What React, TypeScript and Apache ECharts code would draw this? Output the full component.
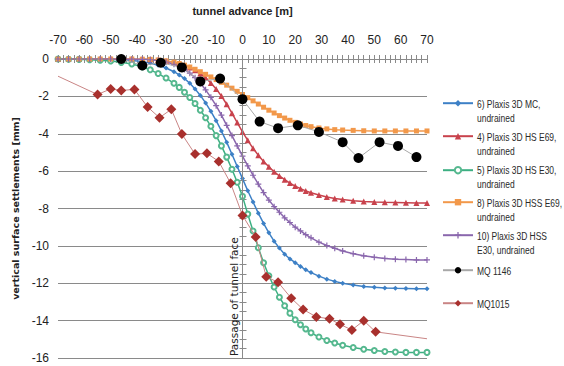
import React, { useEffect, useRef } from "react";
import * as echarts from "echarts";

// tunnel advance [m] of the Plaxis output nodes
const modelX = [-70, -66, -62, -58, -54, -50, -46, -42, -38, -35, -32, -29, -26, -24, -22, -20, -18, -16, -14, -12, -10, -8, -6, -4, -2, 0, 2, 4, 6, 8, 10, 12, 14, 16, 18, 20, 22, 24, 26, 29, 32, 35, 38, 42, 46, 50, 54, 58, 62, 66, 70];

const mc6 = [0, 0, 0, -0.01, -0.01, -0.02, -0.04, -0.08, -0.14, -0.22, -0.33, -0.48, -0.68, -0.85, -1.05, -1.3, -1.6, -1.95, -2.35, -2.8, -3.3, -3.85, -4.45, -5.1, -5.75, -6.4, -7.05, -7.65, -8.25, -8.8, -9.3, -9.75, -10.12, -10.45, -10.7, -10.9, -11.1, -11.28, -11.43, -11.62, -11.78, -11.9, -12.0, -12.1, -12.17, -12.22, -12.25, -12.27, -12.28, -12.29, -12.3];
const hsE69 = [0, 0, 0, 0, 0, 0, 0, -0.01, -0.01, -0.02, -0.05, -0.1, -0.17, -0.24, -0.33, -0.45, -0.6, -0.78, -1.0, -1.28, -1.6, -1.98, -2.42, -2.9, -3.4, -3.9, -4.35, -4.78, -5.15, -5.48, -5.77, -6.03, -6.26, -6.46, -6.64, -6.8, -6.94, -7.06, -7.16, -7.28, -7.38, -7.46, -7.52, -7.58, -7.62, -7.65, -7.67, -7.68, -7.69, -7.7, -7.7];
const hsE30 = [0, -0.01, -0.02, -0.04, -0.07, -0.11, -0.18, -0.27, -0.42, -0.58, -0.78, -1.02, -1.3, -1.52, -1.78, -2.06, -2.38, -2.74, -3.14, -3.6, -4.1, -4.65, -5.25, -5.9, -6.6, -7.35, -8.3, -9.2, -10.1, -10.9, -11.6, -12.2, -12.75, -13.2, -13.6, -13.95, -14.22, -14.45, -14.65, -14.88, -15.06, -15.2, -15.32, -15.44, -15.53, -15.6, -15.65, -15.68, -15.7, -15.7, -15.7];
const hssE69 = [0, 0, 0, 0, 0, 0, 0, 0, -0.01, -0.02, -0.05, -0.1, -0.17, -0.24, -0.33, -0.43, -0.55, -0.68, -0.82, -0.96, -1.1, -1.25, -1.4, -1.56, -1.73, -1.9, -2.07, -2.24, -2.41, -2.58, -2.74, -2.89, -3.03, -3.16, -3.28, -3.39, -3.48, -3.56, -3.62, -3.69, -3.74, -3.78, -3.8, -3.82, -3.84, -3.85, -3.85, -3.85, -3.85, -3.85, -3.85];
const hssE30 = [0, 0, 0, 0, 0, 0, -0.01, -0.01, -0.02, -0.04, -0.08, -0.16, -0.28, -0.4, -0.56, -0.76, -1.0, -1.3, -1.65, -2.05, -2.5, -3.0, -3.55, -4.1, -4.65, -5.2, -5.72, -6.22, -6.7, -7.15, -7.55, -7.9, -8.2, -8.5, -8.75, -9.0, -9.2, -9.4, -9.57, -9.8, -9.98, -10.13, -10.27, -10.42, -10.53, -10.61, -10.67, -10.71, -10.73, -10.75, -10.75];

// measurements
const mq1146X = [-46, -38, -31, -23, -16, -8.5, 0, 6.5, 13.5, 21, 29, 38, 44, 52, 59, 66];
const mq1146Y = [0, -0.35, -0.2, -0.45, -1.2, -1.05, -2.15, -3.35, -3.7, -3.55, -3.9, -4.45, -5.3, -4.45, -4.65, -5.25];
const mq1015X = [-70, -55, -50, -46, -41, -36, -31.5, -27, -23, -18, -13.5, -9, -4.5, 0, 5, 9, 13.5, 18.5, 23, 28, 33, 37, 41.5, 46, 50.5, 70];
const mq1015Y = [-0.92, -1.9, -1.6, -1.68, -1.63, -2.57, -3.14, -2.69, -4.02, -5.09, -5.05, -5.48, -6.65, -8.37, -9.52, -11.65, -11.95, -12.8, -13.4, -13.8, -13.9, -14.2, -14.5, -14.0, -14.6, -14.97];

const seriesNames = [
  "6) Plaxis 3D MC,\nundrained",
  "4) Plaxis 3D HS E69,\nundrained",
  "5) Plaxis 3D HS E30,\nundrained",
  "8) Plaxis 3D HSS E69,\nundrained",
  "10) Plaxis 3D HSS\nE30, undrained",
  "MQ 1146",
  "MQ1015",
];

const xAxisTitle = "tunnel advance [m]";
const yAxisTitle = "vertical surface settlements [mm]";
const faceLabel = "Passage of tunnel face";

const SANS = "'Liberation Sans', Arial, sans-serif";
const GRID_COLOR = "#8a8a8a";
const PLUS = "path://M0,4 L10,4 L10,6 L0,6 Z M4,0 L6,0 L6,10 L4,10 Z";

function pairs(xs: number[], ys: number[]) {
  return xs.map((x, i) => [x, ys[i]]);
}

export default function App() {
  const ref = useRef<HTMLDivElement>(null);
  useEffect(() => {
    const chart = echarts.init(ref.current!, null, { renderer: "svg" });
    const legendCenters = [104, 137, 170, 203, 236, 271, 304];
    const LH = 14.5;
    const legends = seriesNames.map((n, i) => ({
      data: [n],
      left: 442,
      top: legendCenters[i] - 4,
      orient: "vertical",
      padding: 0,
      itemGap: 0,
      itemWidth: 30,
      itemHeight: 8,
      selectedMode: false,
      formatter: () => "",
      textStyle: { fontSize: 1, lineHeight: 1 },
    }));
    const legendTexts = seriesNames.map((n, i) => ({
      type: "text",
      x: 477,
      y: legendCenters[i] - LH / 2,
      scaleX: 0.77,
      silent: true,
      style: {
        text: n,
        x: 0,
        y: 0,
        fontFamily: SANS,
        fontSize: 11,
        lineHeight: LH,
        verticalAlign: "top",
        fill: "#2a2a2a",
      },
    }));

    const lineSeries = (name: string, ys: number[], color: string, symbol: string, size: number, extra: any = {}) => ({
      type: "line",
      name,
      data: pairs(modelX, ys),
      symbol,
      symbolSize: size,
      showSymbol: true,
      lineStyle: { color, width: 1.5 },
      itemStyle: { color },
      ...extra,
    });

    const option: any = {
      animation: false,
      legend: legends,
      graphic: legendTexts,
      grid: { left: 58, right: 137, top: 57.7, bottom: 8 },
      xAxis: [
        {
          type: "value",
          position: "top",
          min: -70,
          max: 70,
          interval: 10,
          name: xAxisTitle,
          nameLocation: "middle",
          nameGap: 43,
          nameTextStyle: { fontFamily: SANS, fontWeight: "bold", fontSize: 11, color: "#222" },
          axisLine: { show: true, lineStyle: { color: GRID_COLOR } },
          axisTick: { show: true, length: 4, lineStyle: { color: GRID_COLOR } },
          minorTick: { show: true, splitNumber: 5, length: 4, lineStyle: { color: GRID_COLOR } },
          axisLabel: { fontFamily: SANS, fontSize: 12, color: "#222", margin: 13 },
          splitLine: { show: false },
        },
        {
          type: "value",
          position: "top",
          min: -70,
          max: 70,
          interval: 10,
          axisLine: { show: false },
          axisTick: { show: true, inside: true, length: 4, lineStyle: { color: GRID_COLOR } },
          minorTick: { show: true, splitNumber: 5, length: 4, lineStyle: { color: GRID_COLOR } },
          axisLabel: { show: false },
          splitLine: { show: false },
        },
      ],
      yAxis: [
        {
          type: "value",
          min: -16,
          max: 0,
          interval: 2,
          name: yAxisTitle,
          nameLocation: "middle",
          nameGap: 34,
          nameRotate: 90,
          nameTextStyle: { fontFamily: "'DejaVu Sans', sans-serif", fontWeight: "bold", fontSize: 9.5, color: "#222" },
          axisLine: { show: true, lineStyle: { color: GRID_COLOR } },
          axisTick: { show: true, length: 3, lineStyle: { color: GRID_COLOR } },
          minorTick: { show: true, splitNumber: 4, length: 3, lineStyle: { color: GRID_COLOR } },
          axisLabel: { fontFamily: SANS, fontSize: 12, color: "#222", margin: 9 },
          splitLine: { show: true, lineStyle: { color: GRID_COLOR, width: 1 } },
        },
        {
          type: "value",
          position: "left",
          min: -16,
          max: 0,
          interval: 2,
          axisLine: { show: false },
          axisTick: { show: true, inside: true, length: 4, lineStyle: { color: GRID_COLOR } },
          minorTick: { show: true, splitNumber: 4, length: 4, lineStyle: { color: GRID_COLOR } },
          axisLabel: { show: false },
          splitLine: { show: false },
        },
      ],
      series: [
        lineSeries(seriesNames[0], mc6, "#3d80c6", "diamond", 5, {
          markLine: {
            silent: true,
            symbol: "none",
            lineStyle: { color: GRID_COLOR, width: 1, type: "solid" },
            label: {
              show: true,
              position: "insideStartTop",
              formatter: faceLabel,
              fontFamily: "'DejaVu Sans', sans-serif",
              fontSize: 10.5,
              color: "#222",
              distance: [2, 3],
            },
            data: [{ xAxis: 0 }],
          },
        }),
        lineSeries(seriesNames[1], hsE69, "#c8424c", "triangle", 6),
        lineSeries(seriesNames[2], hsE30, "#3caf82", "emptyCircle", 5, {
          itemStyle: { color: "#56b88f", borderColor: "#56b88f", borderWidth: 1 },
          lineStyle: { color: "#3caf82", width: 1.5 },
        }),
        lineSeries(seriesNames[3], hssE69, "#f2984a", "rect", 5),
        lineSeries(seriesNames[4], hssE30, "#8a67ad", PLUS, 6),
        {
          type: "line",
          name: seriesNames[5],
          data: pairs(mq1146X, mq1146Y),
          symbol: "circle",
          symbolSize: 10,
          lineStyle: { color: "#a8a8a8", width: 1 },
          itemStyle: { color: "#000" },
          z: 5,
        },
        {
          type: "line",
          name: seriesNames[6],
          data: pairs(mq1015X, mq1015Y).map((p, i, a) =>
            i === 0 || i === a.length - 1 ? { value: p, symbol: "none" } : { value: p }
          ),
          symbol: "diamond",
          symbolSize: 10,
          lineStyle: { color: "#c98585", width: 1 },
          itemStyle: { color: "#a8302d" },
          z: 5,
        },
      ],
    };
    chart.setOption(option);
    return () => chart.dispose();
  }, []);
  return <div ref={ref} style={{ position: "absolute", left: 0, top: 0, width: 564, height: 366 }} />;
}
